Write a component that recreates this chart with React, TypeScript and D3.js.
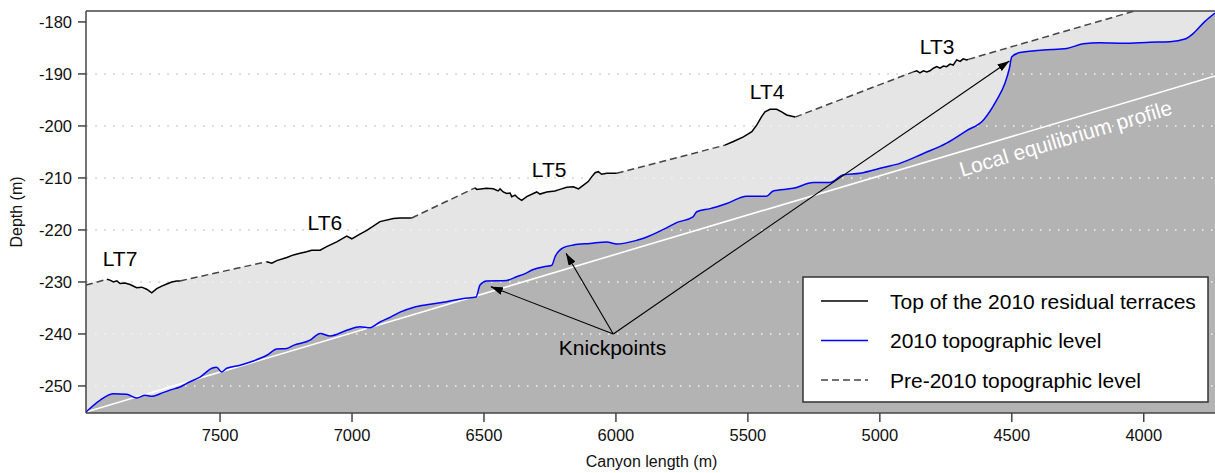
import React from 'react';
import * as d3 from 'd3';

// ---------- data ----------
const xTicks = [7500, 7000, 6500, 6000, 5500, 5000, 4500, 4000];
const yTicks = [-180, -190, -200, -210, -220, -230, -240, -250];
const gridTicks = [-190, -200, -210, -220, -230, -240, -250];

// 2010 topographic level (blue)
const topo2010: [number, number][] = [
  [8008, -255.0], [7955, -252.75], [7904, -251.5], [7854, -251.6], [7816, -252.3], [7784, -251.8],
  [7759, -252.0], [7727, -251.5], [7690, -250.8], [7652, -250.2], [7614, -249.2], [7576, -248.3],
  [7531, -246.6], [7513, -246.4], [7494, -247.3], [7475, -246.6], [7424, -246.0], [7374, -245.2],
  [7323, -244.1], [7285, -242.9], [7247, -242.8], [7222, -242.2], [7159, -241.2], [7121, -239.9],
  [7083, -240.4], [7020, -239.3], [6970, -238.6], [6932, -238.8], [6894, -237.7], [6856, -236.8],
  [6818, -235.8], [6768, -234.9], [6704, -234.3], [6641, -233.8], [6578, -233.2], [6530, -232.9],
  [6515, -230.6], [6490, -229.8], [6414, -229.7], [6376, -229.0], [6344, -228.4], [6313, -227.6],
  [6262, -227.0], [6243, -226.8], [6231, -225.2], [6199, -223.4], [6161, -222.9], [6098, -222.6],
  [6035, -222.3], [5997, -222.7], [5921, -222.0], [5895, -221.6], [5808, -219.6], [5770, -218.6],
  [5708, -217.5], [5694, -216.5], [5643, -215.9], [5580, -214.9], [5504, -213.5], [5429, -213.5],
  [5404, -212.5], [5328, -212.0], [5252, -210.9], [5189, -210.9], [5138, -209.4], [5075, -209.1],
  [4987, -208.0], [4924, -207.2], [4835, -205.3], [4747, -203.3], [4671, -200.9], [4608, -198.9],
  [4557, -195.0], [4526, -191.8], [4509, -188.9], [4500, -186.7], [4469, -185.9], [4381, -185.4],
  [4292, -185.1], [4229, -184.2], [4166, -184.0], [4078, -184.1], [3976, -183.9], [3901, -183.8],
  [3844, -183.3], [3812, -182.2], [3768, -179.9], [3730, -178.3],
];

// Pre-2010 topographic level (dashed segments between terraces)
const pre2010Segments: [number, number][][] = [
  [[8008, -230.6], [7929, -229.5]],
  [[7652, -229.8], [7323, -226.1]],
  [[6774, -217.7], [6534, -211.9]],
  [[5997, -209.1], [5587, -203.7]],
  [[5321, -198.3], [4873, -189.6]],
  [[4665, -187.2], [3730, -173.4]],
];

// Top of the 2010 residual terraces
const terraceLT7: [number, number][] = [
  [7929, -229.5], [7917, -229.65], [7904, -230.0], [7891, -229.8], [7879, -230.3], [7860, -230.2],
  [7841, -230.5], [7816, -231.1], [7797, -231.0], [7778, -231.4], [7759, -232.1], [7740, -231.3],
  [7721, -230.8], [7702, -230.4], [7683, -230.0], [7664, -229.8], [7652, -229.8],
];
const terraceLT6: [number, number][] = [
  [7323, -226.1], [7304, -226.4], [7285, -225.9], [7247, -225.3], [7222, -224.8], [7197, -224.5],
  [7172, -224.2], [7153, -223.9], [7121, -223.9], [7096, -223.2], [7058, -222.3], [7020, -221.2],
  [7001, -221.7], [6970, -220.8], [6944, -220.1], [6894, -218.4], [6843, -217.8], [6818, -217.7],
  [6774, -217.7],
];
const terraceLT5: [number, number][] = [
  [6534, -211.9], [6527, -212.2], [6490, -212.0], [6465, -212.1], [6446, -212.5], [6439, -212.1],
  [6427, -212.7], [6414, -213.0], [6401, -212.9], [6395, -213.6], [6382, -213.3], [6370, -213.9],
  [6357, -214.3], [6338, -213.6], [6313, -213.0], [6300, -212.7], [6288, -213.1], [6262, -212.7],
  [6231, -212.5], [6212, -212.2], [6186, -211.8], [6161, -211.7], [6142, -212.1], [6123, -211.4],
  [6105, -210.7], [6092, -209.8], [6079, -209.0], [6067, -208.8], [6054, -209.3], [6035, -209.1],
  [5997, -209.1],
];
const terraceLT4: [number, number][] = [
  [5587, -203.7], [5555, -203.0], [5517, -202.1], [5485, -201.1], [5466, -199.8], [5448, -198.2],
  [5435, -197.3], [5416, -196.8], [5391, -196.8], [5372, -197.3], [5353, -197.9], [5321, -198.3],
];
const terraceLT3: [number, number][] = [
  [4873, -189.6], [4860, -189.4], [4848, -189.8], [4835, -189.4], [4822, -189.6], [4810, -189.4],
  [4797, -188.9], [4784, -188.6], [4772, -188.9], [4759, -188.5], [4747, -188.6], [4734, -188.1],
  [4722, -188.3], [4709, -187.3], [4696, -187.6], [4684, -187.1], [4671, -187.3], [4665, -187.2],
];
const terraces = [terraceLT7, terraceLT6, terraceLT5, terraceLT4, terraceLT3];

// Local equilibrium profile (straight line)
const equilibrium: [number, number][] = [[8008, -255.0], [3730, -190.4]];

// Labels
const terraceLabels = [
  { text: 'LT7', x: 7879, y: -227.0 },
  { text: 'LT6', x: 7103, y: -220.0 },
  { text: 'LT5', x: 6253, y: -209.8 },
  { text: 'LT4', x: 5427, y: -194.9 },
  { text: 'LT3', x: 4783, y: -186.2 },
];
const knickOrigin: [number, number] = [6010, -240.0];
const knickTargets: [number, number][] = [[6474, -230.9], [6189, -224.5], [4509, -187.5]];
const knickLabel = { text: 'Knickpoints', x: 6013, y: -244.1 };
const eqLabel = { text: 'Local equilibrium profile', x: 4689, y: -209.8 };

const legendItems = [
  { label: 'Top of the 2010 residual terraces', color: '#000', dash: '' },
  { label: '2010 topographic level', color: '#0000ff', dash: '' },
  { label: 'Pre-2010 topographic level', color: '#444', dash: '7,4' },
];

// ---------- layout ----------
const W = 1215, H = 473;
const L = 86, R = 1215, T = 11, B = 413;
const FONT = '"Liberation Sans", Arial, Helvetica, sans-serif';

export default function App() {
  const x = d3.scaleLinear().domain([8008, 3730]).range([L, R]);
  const y = d3.scaleLinear().domain([-255.2, -177.9]).range([B, T]);

  const line = d3.line<[number, number]>().x(d => x(d[0])).y(d => y(d[1]));
  const smooth = d3.line<[number, number]>().x(d => x(d[0])).y(d => y(d[1])).curve(d3.curveMonotoneX);

  // top surface = union of dashed and terrace segments, ordered along x
  const topPts: [number, number][] = [];
  pre2010Segments.forEach(s => s.forEach(p => topPts.push(p)));
  terraces.forEach(s => s.forEach(p => topPts.push(p)));
  topPts.sort((a, b) => b[0] - a[0]);

  const areaTop = d3.area<[number, number]>().x(d => x(d[0])).y0(B + 5).y1(d => y(d[1]));
  const areaBlue = d3.area<[number, number]>().x(d => x(d[0])).y0(B + 5).y1(d => y(d[1])).curve(d3.curveMonotoneX);

  const ex0 = x(equilibrium[0][0]), ey0 = y(equilibrium[0][1]);
  const ex1 = x(equilibrium[1][0]), ey1 = y(equilibrium[1][1]);
  const eqAngle = (Math.atan2(ey1 - ey0, ex1 - ex0) * 180) / Math.PI;

  const legX = 803, legY = 277, legW = 405, legH = 125;

  return (
    <svg width={W} height={H} style={{ position: 'absolute', left: 0, top: 0, background: '#fff' }} fontFamily={FONT}>
      <defs>
        <clipPath id="plot">
          <rect x={L} y={T} width={R - L} height={B - T} />
        </clipPath>
        <marker id="arrow" viewBox="0 0 12 8" refX="12" refY="4" markerWidth="12" markerHeight="8"
          markerUnits="userSpaceOnUse" orient="auto">
          <path d="M0,0 L12,4 L0,8 z" fill="#000" />
        </marker>
      </defs>

      <g clipPath="url(#plot)">
        {/* gridlines under fills */}
        {gridTicks.map(t => (
          <line key={'g' + t} x1={L} x2={R} y1={y(t)} y2={y(t)} stroke="#8a8a8a" strokeWidth={1.5}
            strokeDasharray="1.5,7.5" />
        ))}
        <path d={areaTop(topPts) || ''} fill="#e5e5e5" />
        <path d={areaBlue(topo2010) || ''} fill="#b3b3b3" />
        {/* gridlines over fills */}
        {gridTicks.map(t => (
          <line key={'w' + t} x1={L} x2={R} y1={y(t)} y2={y(t)} stroke="#f4f4f4" strokeWidth={1.5}
            strokeDasharray="1.5,7.5" />
        ))}
        <path d={line(equilibrium) || ''} stroke="#fff" strokeWidth={1.6} fill="none" />
        <path d={smooth(topo2010) || ''} stroke="#0000ff" strokeWidth={1.5} fill="none" />
        {pre2010Segments.map((s, i) => (
          <path key={'d' + i} d={line(s) || ''} stroke="#444" strokeWidth={1.5} strokeDasharray="7,4" fill="none" />
        ))}
        {terraces.map((s, i) => (
          <path key={'t' + i} d={line(s) || ''} stroke="#000" strokeWidth={1.5} fill="none" />
        ))}
        {knickTargets.map((p, i) => (
          <line key={'a' + i} x1={x(knickOrigin[0])} y1={y(knickOrigin[1])} x2={x(p[0])} y2={y(p[1])}
            stroke="#000" strokeWidth={1.1} markerEnd="url(#arrow)" />
        ))}
        <text x={x(eqLabel.x)} y={y(eqLabel.y)} fill="#fff" fontSize={21}
          transform={`rotate(${eqAngle} ${x(eqLabel.x)} ${y(eqLabel.y)})`}>{eqLabel.text}</text>
      </g>

      {terraceLabels.map(l => (
        <text key={l.text} x={x(l.x)} y={y(l.y)} fontSize={21} textAnchor="middle" fill="#000">{l.text}</text>
      ))}
      <text x={x(knickLabel.x)} y={y(knickLabel.y)} fontSize={21} textAnchor="middle" fill="#000">{knickLabel.text}</text>

      {/* axes / frame */}
      <line x1={L} x2={R} y1={T} y2={T} stroke="#444" strokeWidth={1.5} />
      <line x1={L} x2={R} y1={B} y2={B} stroke="#444" strokeWidth={1.5} />
      <line x1={L} x2={L} y1={T} y2={B} stroke="#444" strokeWidth={1.5} />
      {yTicks.map(t => (
        <g key={'yt' + t}>
          <line x1={L - 8} x2={L} y1={y(t)} y2={y(t)} stroke="#444" strokeWidth={1.5} />
          <text x={L - 14} y={y(t) + 6} fontSize={16.5} textAnchor="end" fill="#111">{t}</text>
        </g>
      ))}
      {xTicks.map(t => (
        <g key={'xt' + t}>
          <line x1={x(t)} x2={x(t)} y1={B} y2={B + 9} stroke="#444" strokeWidth={1.5} />
          <text x={x(t)} y={441} fontSize={16.5} textAnchor="middle" fill="#111">{t}</text>
        </g>
      ))}
      <text x={(L + R) / 2 + 1} y={467} fontSize={16} textAnchor="middle" fill="#111">Canyon length (m)</text>
      <text transform={`translate(22, ${(T + B) / 2}) rotate(-90)`} fontSize={16} textAnchor="middle" fill="#111">Depth (m)</text>

      {/* legend */}
      <rect x={legX} y={legY} width={legW} height={legH} fill="#fff" stroke="#333" strokeWidth={1.5} />
      {legendItems.map((it, i) => {
        const ry = legY + 24 + i * 39.5;
        return (
          <g key={it.label}>
            <line x1={legX + 18} x2={legX + 65} y1={ry} y2={ry} stroke={it.color} strokeWidth={1.5}
              strokeDasharray={it.dash || undefined} />
            <text x={legX + 87} y={ry + 7.5} fontSize={21} fill="#000">{it.label}</text>
          </g>
        );
      })}
    </svg>
  );
}
